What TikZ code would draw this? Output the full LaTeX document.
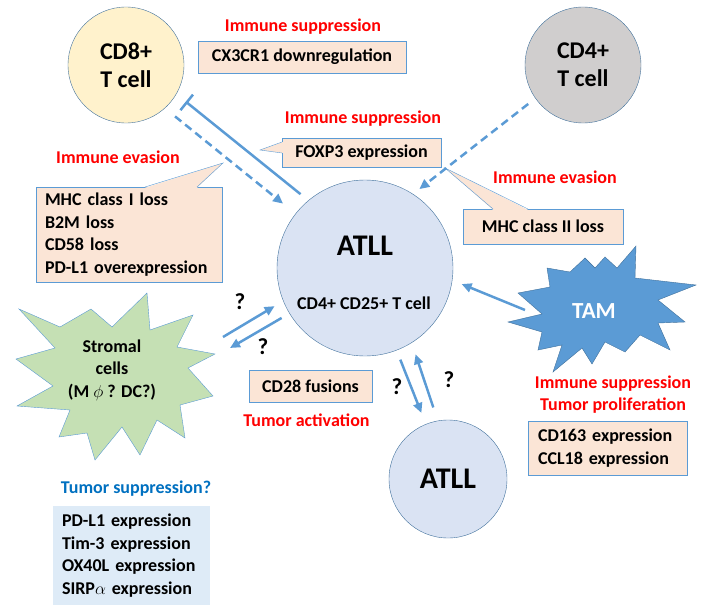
\documentclass[tikz,border=0pt]{standalone}
\usepackage{fontspec}
\setmainfont{Carlito}
\usetikzlibrary{arrows.meta}
\definecolor{lineblue}{HTML}{5B9BD5}
\definecolor{cellline}{HTML}{41719C}
\definecolor{cdeight}{HTML}{FFF2CC}
\definecolor{cdfour}{HTML}{D0CECE}
\definecolor{atllfill}{HTML}{DAE3F3}
\definecolor{peach}{HTML}{FBE5D6}
\definecolor{paleblue}{HTML}{DEEBF7}
\definecolor{stromal}{HTML}{C5E0B4}
\definecolor{tumblue}{HTML}{0070C0}
\begin{document}
\begin{tikzpicture}[x=1pt,y=-1pt,
    txt/.style={font=\bfseries\fontsize{18}{22.6}\selectfont},
    cell/.style={circle,draw=cellline,inner sep=0pt,align=center,font=\bfseries\fontsize{24}{28}\selectfont},
    box/.style={txt,draw=lineblue,fill=peach,inner sep=0pt},
    lbox/.style={txt,draw=lineblue,fill=peach,inner xsep=9pt,inner ysep=0pt,align=left,execute at begin node={\hyphenpenalty10000\relax}},
    redlab/.style={txt,text=red,align=center},
    qmark/.style={font=\bfseries\fontsize{23}{28}\selectfont},
    arr/.style={lineblue,line width=2.5pt,-{Triangle[length=10pt,width=9pt]}},
    dsh/.style={arr,dash pattern=on 8pt off 5pt}]
\useasboundingbox (0,0) rectangle (709,610);

\node[cell,fill=cdeight,minimum size=116pt] (cd8) at (126,65) {CD8+\\T cell};
\node[cell,fill=cdfour,minimum size=116pt] (cd4) at (583,65) {CD4+\\T cell};
\node[cell,fill=atllfill,minimum size=176pt] (atll) at (365,268) {};
\node[font=\bfseries\fontsize{30}{36}\selectfont] (atllname) at (365,246) {ATLL};
\node[txt] (atllsub) at (364,303) {CD4+ CD25+ T cell};
\node[cell,fill=atllfill,minimum size=118pt,font=\bfseries\fontsize{30}{36}\selectfont] (atlltwo) at (448,479) {ATLL};

\draw[cellline,fill=lineblue] (508,322) -- (542,314) -- (518,293) -- (550,287) -- (547,268) -- (570,272) -- (585,258) -- (595,268) -- (605,257) -- (617,268) -- (636,246) -- (635,278) -- (696,285) -- (658,300) -- (685,322) -- (658,323) -- (670,350) -- (640,335) -- (625,352) -- (605,342) -- (592,364) -- (582,348) -- (553,372) -- (562,345) -- (538,350) -- (542,332) -- cycle;
\node[font=\bfseries\fontsize{23}{28}\selectfont,text=white] (tam) at (594,311) {TAM};

\draw[lineblue,fill=stromal] (19,309) -- (60,327) -- (91,309) -- (112,327) -- (147,293) -- (150,330) -- (193,315) -- (177,347) -- (215,354) -- (188,368) -- (213,396) -- (180,405) -- (185,438) -- (157,420) -- (140,455) -- (122,427) -- (95,460) -- (87,433) -- (59,437) -- (70,410) -- (17,406) -- (53,386) -- (16,359) -- (55,348) -- cycle;
\node[txt,align=center] (strom) at (112,370) {Stromal\\cells\\(M $\phi$ ? DC?)};

\node[redlab] (supone) at (303,27) {Immune suppression};
\node[box,minimum width=208pt,minimum height=32pt] (cxcr) at (302,57) {CX3CR1 downregulation};
\node[redlab] (suptwo) at (363,119) {Immune suppression};
\node[box,minimum width=159pt,minimum height=29pt] (foxp) at (361.5,152.5) {FOXP3 expression};
\node[redlab] (evaone) at (118,157) {Immune evasion};
\node[lbox,text width=168pt,minimum height=95pt] (mhcone) at (129,234.5) {MHC class I loss\\B2M loss\\CD58 loss\\PD-L1 overexpression};
\node[redlab] (evatwo) at (555,177) {Immune evasion};
\node[box,minimum width=160pt,minimum height=35pt] (mhctwo) at (543,226.5) {MHC class II loss};
\node[box,minimum width=123pt,minimum height=32pt] (cdtwe) at (310.5,386) {CD28 fusions};
\node[redlab] (tumact) at (306.5,420) {Tumor activation};
\node[redlab] (tamlab) at (613,394.5) {Immune suppression\\Tumor proliferation};
\node[lbox,inner xsep=10pt,text width=139pt,minimum height=54pt] (cdtam) at (607.5,448) {CD163 expression\\CCL18 expression};
\node[txt,text=tumblue] (tumsup) at (136,489) {Tumor suppression?};
\node[lbox,draw=none,fill=paleblue,inner xsep=9pt,text width=139pt,minimum height=99pt] (stexp) at (131.5,555.5) {PD-L1 expression\\Tim-3 expression\\OX40L expression\\SIRP$\alpha$ expression};

\fill[peach] (282.8,142) -- (260,150) -- (282.8,153) -- cycle;
\draw[lineblue] (282,142) -- (260,150) -- (282,153);
\fill[peach] (145,187.8) -- (223,163) -- (197,187.8) -- cycle;
\draw[lineblue] (145,187) -- (223,163) -- (197,187);
\fill[peach] (493,209.8) -- (445,168) -- (528,209.8) -- cycle;
\draw[lineblue] (493,209) -- (445,168) -- (528,209);

\coordinate (tamout) at (525,310);
\coordinate (stout) at (223,337);
\coordinate (stin) at (230,348);
\draw[arr,-{Bar[width=20pt,line width=2.5pt]},shorten <=10pt,shorten >=12pt] (atll.130) -- (cd8.-30);
\draw[dsh,shorten <=13pt,shorten >=16pt] (cd8.-48) -- (atll.142);
\draw[dsh,shorten <=9pt,shorten >=8pt] (cd4.215) -- (atll.57);
\draw[arr,shorten >=10pt] (tamout) -- (atll.-8);
\draw[arr,shorten >=10pt] (stout) -- (atll.202);
\draw[arr,shorten <=9pt] (atll.211) -- (stin);
\draw[arr,shorten <=10pt,shorten >=12pt] (atll.-69) -- (atlltwo.112);
\draw[arr,shorten <=14pt,shorten >=12pt] (atlltwo.100) -- (atll.-58);

\node[qmark] (qa) at (240,302) {?};
\node[qmark] (qb) at (263,347) {?};
\node[qmark] (qc) at (397,387) {?};
\node[qmark] (qd) at (449,380) {?};
\end{tikzpicture}
\end{document}
